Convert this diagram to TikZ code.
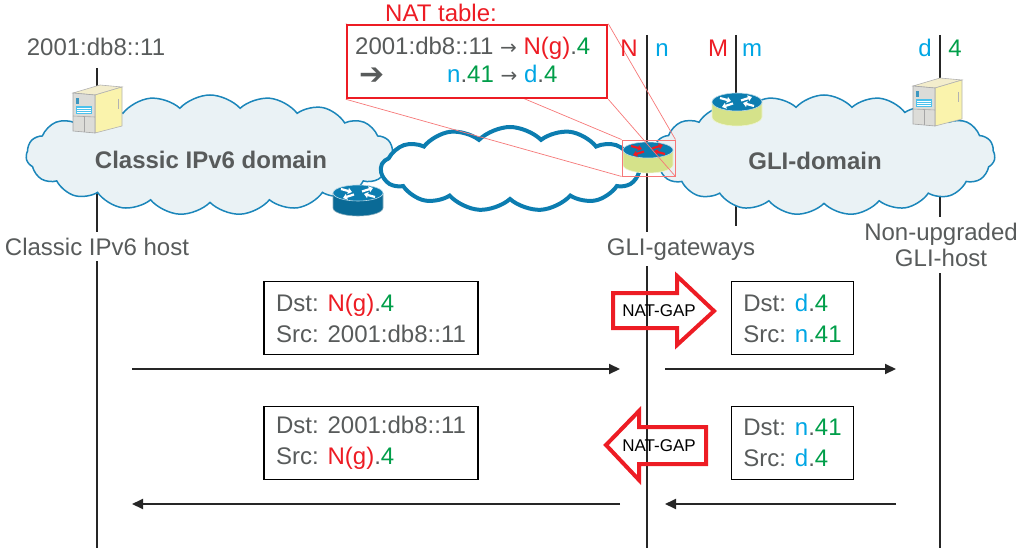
\documentclass[tikz,border=0pt]{standalone}
\usepackage{fontspec}
\setmainfont{Liberation Sans}
\newfontfamily\dingfont{DejaVu Sans}
\usetikzlibrary{shapes.symbols,arrows.meta}

\definecolor{txtgrey}{RGB}{88,91,91}
\definecolor{natred}{RGB}{237,28,36}
\definecolor{natgreen}{RGB}{0,158,73}
\definecolor{natblue}{RGB}{0,166,228}
\definecolor{cloudfill}{RGB}{234,242,245}
\definecolor{cloudedge}{RGB}{27,134,186}
\definecolor{routerblue}{RGB}{12,125,176}
\definecolor{routerside}{RGB}{213,226,138}
\definecolor{serverfront}{RGB}{220,220,216}
\definecolor{serverside}{RGB}{250,243,172}
\definecolor{servertop}{RGB}{243,237,204}
\definecolor{zoomred}{RGB}{246,120,120}

\newcommand{\nred}[1]{\textcolor{natred}{#1}}
\newcommand{\ngreen}[1]{\textcolor{natgreen}{#1}}
\newcommand{\nblue}[1]{\textcolor{natblue}{#1}}
\newcommand{\natto}{{\dingfont\fontsize{20pt}{24pt}\selectfont →}}

% router: position, side colour, arrow colour, y radius
\newcommand{\gliRouter}[4]{%
\begin{scope}[shift={#1}]
 \fill[#2] (-25,0) -- (-25,15) arc[start angle=180,end angle=0,x radius=25,y radius=#4] -- (25,0) -- cycle;
 \draw[white!60!#2, line width=0.6] (-25,0) -- (-25,15) arc[start angle=180,end angle=0,x radius=25,y radius=#4] -- (25,0);
 \fill[routerblue] (0,0) ellipse[x radius=25,y radius=#4];
 \draw[white!70!routerblue, line width=0.6] (0,0) ellipse[x radius=25,y radius=#4];
 \draw[#3, line width=2.2, -{Triangle[length=4pt,width=6pt]}] (-17,-4) -- (-6,-1);
 \draw[#3, line width=2.2, -{Triangle[length=4pt,width=6pt]}] (17,4) -- (6,1);
 \draw[#3, line width=2.2, -{Triangle[length=4pt,width=6pt]}] (4,-1.5) -- (15,-5);
 \draw[#3, line width=2.2, -{Triangle[length=4pt,width=6pt]}] (-4,1.5) -- (-15,5);
\end{scope}}

% server box, origin at its back top corner row
\newcommand{\gliServer}[1]{%
\begin{scope}[shift={#1}]
 \filldraw[fill=servertop, draw=gray!60, line width=0.6] (0,8) -- (22,10) -- (49,2) -- (27,0) -- cycle;
 \filldraw[fill=serverside, draw=gray!60, line width=0.6] (22,10) -- (49,2) -- (49,41) -- (22,48) -- cycle;
 \filldraw[fill=serverfront, draw=gray!70, line width=0.6] (0,8) -- (22,10) -- (22,48) -- (0,46) -- cycle;
 \fill[routerblue!80] (3,13) rectangle (6,19);
 \fill[natblue!70] (3,21) rectangle (19,29);
 \foreach \s in {23,25,27} \draw[white, line width=0.5] (4,\s) -- (18,\s);
 \draw[gray!70, line width=0.6] (0,31) -- (22,32);
 \draw[gray!70, line width=0.6] (11,32) -- (11,47);
 \draw[gray!60, line width=1] (45,14) -- (45,24);
\end{scope}}

\begin{document}
\begin{tikzpicture}[x=1pt,y=-1pt,
  font=\fontsize{24pt}{31pt}\selectfont,
  lifeline/.style={draw=black!85, line width=2pt},
  netcloud/.style={cloud, cloud puffs=19, cloud puff arc=95, cloud ignores aspect, draw=cloudedge, fill=cloudfill, line width=1.5pt, inner sep=0pt},
  netname/.style={font=\fontsize{24pt}{28pt}\selectfont\bfseries, text=txtgrey, inner sep=0pt, anchor=base},
  toplabel/.style={inner sep=0pt, anchor=base},
  hostlabel/.style={fill=white, text=txtgrey, inner xsep=2pt, inner ysep=6pt},
  msg/.style={draw=black, line width=1.6pt, text=txtgrey, align=left, inner xsep=12pt, inner ysep=0pt, minimum height=73pt},
  flow/.style={draw=black!85, line width=2pt, -{Triangle[length=11pt,width=10pt]}},
  gap/.style={draw=natred, line width=4pt, line join=miter},
  gaptext/.style={font=\fontsize{17pt}{20pt}\selectfont, inner sep=0pt},
  zoomline/.style={draw=zoomred, line width=0.7pt}]
\useasboundingbox (0,0) rectangle (1024,556);

% lifelines
\draw[lifeline] (97,68) -- (97,548);
\draw[lifeline] (647,35) -- (647,548);
\draw[lifeline] (736,35) -- (736,226);
\draw[lifeline] (940,35) -- (940,548);

% domains
\node[netcloud, minimum width=368, minimum height=120] (classiccloud) at (210,155) {};
\node[netcloud, minimum width=342, minimum height=120] (glicloud) at (824,155) {};
\node[netcloud, cloud puffs=13, cloud puff arc=90, fill=white, draw=routerblue, line width=4pt, minimum width=258, minimum height=84] (transitcloud) at (510,169) {};
\node[netname] (classicname) at (211,168) {Classic IPv6 domain};
\node[netname] (gliname) at (815,170) {GLI-domain};

% hosts and routers
\gliServer{(73,85)}
\gliServer{(913,78)}
\gliRouter{(358,193)}{routerblue!85!black}{white}{8}
\gliRouter{(737,102)}{routerside}{white}{9}
\gliRouter{(648,150)}{routerside}{natred}{8}

% NAT table, zoomed out of the gateway
\node[draw=zoomred, line width=0.9pt, minimum width=53, minimum height=36, inner sep=0pt] (zoombox) at (648.5,158) {};
\node[draw=natred, line width=2.5pt, fill=white, minimum width=260, minimum height=73, inner sep=0pt] (natbox) at (477,61.5) {};
\draw[zoomline] (natbox.north west) -- (zoombox.north west);
\draw[zoomline] (natbox.north east) -- (zoombox.north east);
\draw[zoomline] (natbox.south west) -- (zoombox.south west);
\draw[zoomline] (natbox.south east) -- (zoombox.south east);
\node[draw=natred, line width=2.5pt, fill=white, minimum width=260, minimum height=73, inner sep=0pt] (natframe) at (natbox) {};
\node[toplabel, text=natred] (nattitle) at (441,22) {NAT table:};
\node[toplabel, anchor=base west, text=txtgrey] (natrowa) at (355,55) {2001:db8::11 \natto{} \nred{N(g)}.\ngreen{4}};
\node[inner sep=0pt, text=txtgrey, font=\fontsize{30pt}{32pt}\dingfont] (natmark) at (372,76) {➔};
\node[toplabel, anchor=base west, text=txtgrey] (natrowb) at (447,83) {\nblue{n}.\ngreen{41} \natto{} \nblue{d}.\ngreen{4}};

% address labels
\node[toplabel, text=txtgrey] (hostaddr) at (96,56) {2001:db8::11};
\node[toplabel, text=natred] (gwN) at (629,57) {N};
\node[toplabel, text=natblue] (gwn) at (662,57) {n};
\node[toplabel, text=natred] (gwM) at (718,57) {M};
\node[toplabel, text=natblue] (gwm) at (752,57) {m};
\node[toplabel, text=natblue] (glid) at (925,57) {d};
\node[toplabel, text=natgreen] (glifour) at (955,57) {4};

% role labels
\node[hostlabel, anchor=base] (hostrole) at (97,255) {Classic IPv6 host};
\node[hostlabel, anchor=base] (gwrole) at (681,255) {GLI-gateways};
\node[hostlabel, align=center, font=\fontsize{24pt}{26pt}\selectfont] (glirole) at (941,245) {Non-upgraded\\GLI-host};

% packets
\node[msg, minimum width=214] (fwdleft) at (371,318) {Dst: \nred{N(g)}.\ngreen{4}\\Src: 2001:db8::11};
\node[msg, minimum width=119] (fwdright) at (792.5,318) {Dst: \nblue{d}.\ngreen{4}\\Src: \nblue{n}.\ngreen{41}};
\node[msg, minimum width=214] (backleft) at (371,443) {Dst: 2001:db8::11\\Src: \nred{N(g)}.\ngreen{4}};
\node[msg, minimum width=119] (backright) at (792.5,443) {Dst: \nblue{n}.\ngreen{41}\\Src: \nblue{d}.\ngreen{4}};

\coordinate (fwdA) at (132,369);
\coordinate (fwdB) at (620,369);
\coordinate (fwdC) at (665,369);
\coordinate (fwdD) at (896,369);
\coordinate (backA) at (896,504);
\coordinate (backB) at (665,504);
\coordinate (backC) at (620,504);
\coordinate (backD) at (132,504);
\draw[flow] (fwdA) -- (fwdB);
\draw[flow] (fwdC) -- (fwdD);
\draw[flow] (backA) -- (backB);
\draw[flow] (backC) -- (backD);

% NAT-GAP
\draw[gap] (613,293) -- (677,293) -- (677,276) -- (714,311) -- (677,345) -- (677,328) -- (613,328) -- cycle;
\node[gaptext] (gapout) at (659,311) {NAT-GAP};
\draw[gap] (606,445) -- (639,411) -- (639,427) -- (706,427) -- (706,464) -- (639,464) -- (639,480) -- cycle;
\node[gaptext] (gapback) at (659,446) {NAT-GAP};
\end{tikzpicture}
\end{document}
